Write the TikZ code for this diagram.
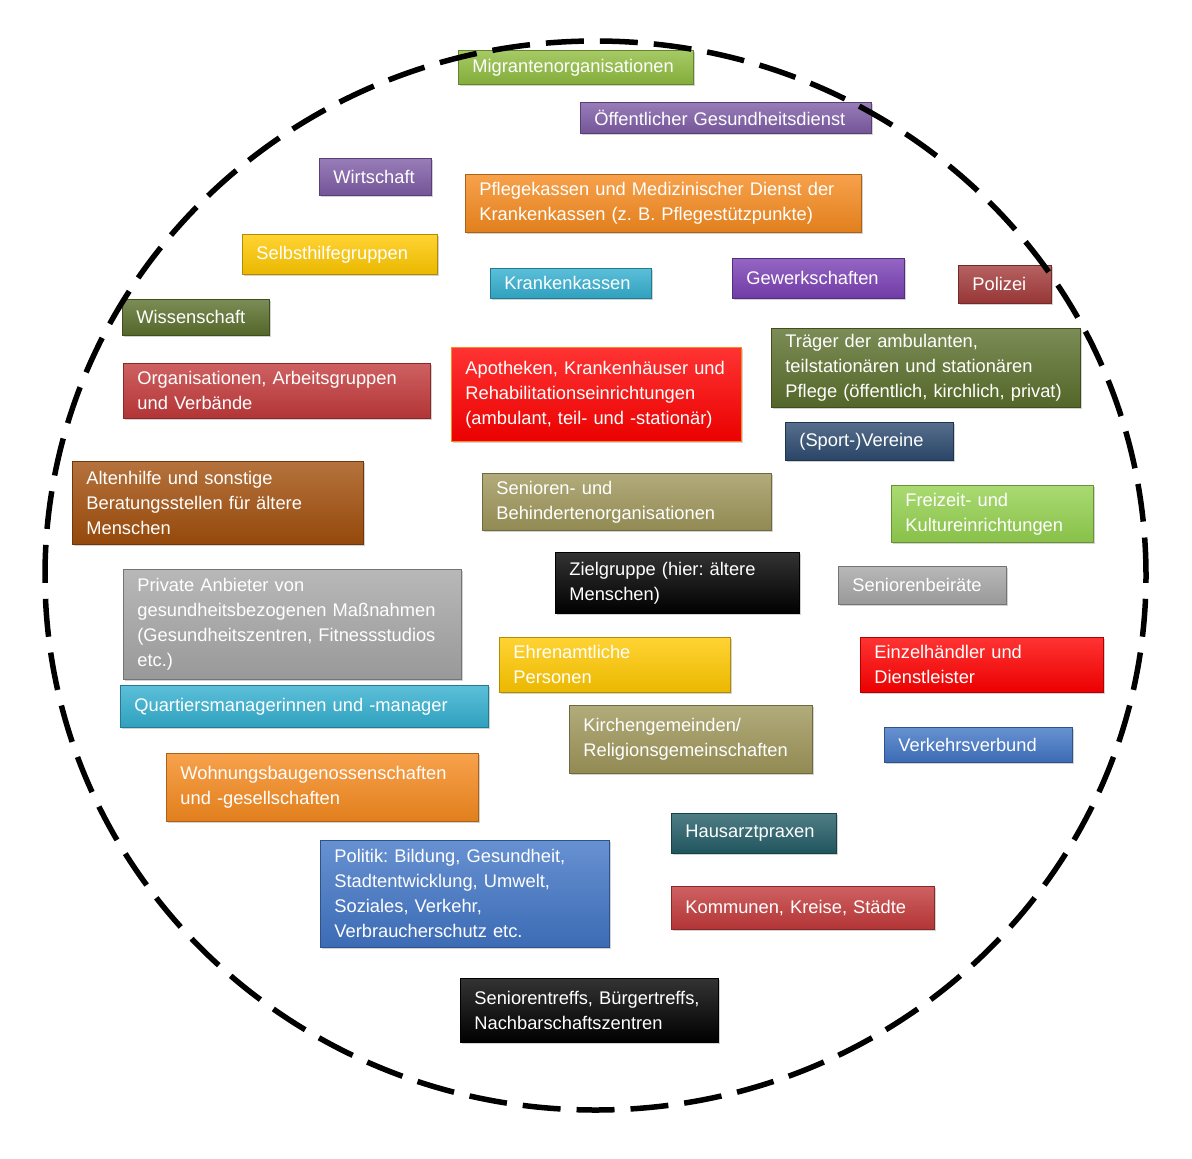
\documentclass[tikz,border=0pt]{standalone}
\usepackage{fontspec}
\setmainfont{Liberation Sans}
\usetikzlibrary{shadows}
\frenchspacing

\definecolor{limegreen}{HTML}{8FBC3F}
\definecolor{lila}{HTML}{7E5CA6}
\definecolor{violett}{HTML}{7A40B5}
\definecolor{orangeb}{HTML}{F58A1F}
\definecolor{gelb}{HTML}{FFC800}
\definecolor{cyanb}{HTML}{33AFCF}
\definecolor{rostrot}{HTML}{A33A3A}
\definecolor{oliv}{HTML}{5B6F2C}
\definecolor{ziegel}{HTML}{C2393A}
\definecolor{knallrot}{HTML}{FF0000}
\definecolor{marine}{HTML}{2C4A6F}
\definecolor{braun}{HTML}{A24F0C}
\definecolor{khaki}{HTML}{9E965A}
\definecolor{hellgruen}{HTML}{94D14F}
\definecolor{grau}{HTML}{A6A6A6}
\definecolor{blau}{HTML}{4175C5}
\definecolor{petrol}{HTML}{235C66}
\definecolor{schwarz}{HTML}{000000}

\begin{document}
\begin{tikzpicture}[x=1pt, y=-1pt, font=\fontsize{18.3}{25}\selectfont,
  box/.style={anchor=north west, draw=#1!70!black, line width=0.8pt, top color=#1!80!white, bottom color=#1!92!black,
    text=white, align=left, inner xsep=14pt, inner ysep=0pt,
    drop shadow={shadow xshift=2pt, shadow yshift=-2pt, fill=black!35}}]
\useasboundingbox (0,0) rectangle (1192,1159);
% Akteure
\node[box=limegreen, text width=207pt, minimum height=34pt] (mig) at (458,50) {Migrantenorganisationen};
\node[box=lila, text width=263pt, minimum height=31pt] (oegd) at (580,102) {Öffentlicher Gesundheitsdienst};
\node[box=lila, text width=84pt, minimum height=37pt] (wirt) at (319,158) {Wirtschaft};
\node[box=orangeb, text width=368pt, minimum height=58pt] (pflk) at (465,174) {Pflegekassen und Medizinischer Dienst der\\ Krankenkassen (z. B. Pflegestützpunkte)};
\node[box=gelb, text width=167pt, minimum height=40pt] (shg) at (242,234) {Selbsthilfegruppen};
\node[box=cyanb, text width=133pt, minimum height=30pt] (krk) at (490,268) {Krankenkassen};
\node[box=violett, text width=144pt, minimum height=40pt] (gew) at (732,258) {Gewerkschaften};
\node[box=rostrot, text width=65pt, minimum height=38pt] (pol) at (958,265) {Polizei};
\node[box=oliv, text width=119pt, minimum height=36pt] (wiss) at (122,299) {Wissenschaft};
\node[box=ziegel, text width=279pt, minimum height=55pt] (org) at (123,363) {Organisationen, Arbeitsgruppen\\ und Verbände};
\node[box=knallrot, draw=orangeb, text width=262pt, minimum height=94pt] (apo) at (451,347) {Apotheken, Krankenhäuser und\\ Rehabilitationseinrichtungen\\ (ambulant, teil- und -stationär)};
\node[box=oliv, text width=281pt, minimum height=79pt] (traeger) at (771,328) {Träger der ambulanten,\\ teilstationären und stationären\\ Pflege (öffentlich, kirchlich, privat)};
\node[box=marine, text width=140pt, minimum height=38pt] (sport) at (785,422) {(Sport-)Vereine};
\node[box=braun, text width=263pt, minimum height=83pt] (alten) at (72,461) {Altenhilfe und sonstige\\ Beratungsstellen für ältere\\ Menschen};
\node[box=khaki, text width=261pt, minimum height=57pt] (senbeh) at (482,473) {Senioren- und\\ Behindertenorganisationen};
\node[box=hellgruen, text width=174pt, minimum height=57pt] (freizeit) at (891,485) {Freizeit- und\\ Kultureinrichtungen};
\node[box=schwarz, text width=216pt, minimum height=61pt] (ziel) at (555,552) {Zielgruppe (hier: ältere\\ Menschen)};
\node[box=grau, text width=140pt, minimum height=38pt] (beirat) at (838,566) {Seniorenbeiräte};
\node[box=grau, text width=310pt, minimum height=110pt] (privat) at (123,569) {Private Anbieter von\\ gesundheitsbezogenen Maßnahmen\\ (Gesundheitszentren, Fitnessstudios\\ etc.)};
\node[box=gelb, text width=203pt, minimum height=55pt] (ehren) at (499,637) {Ehrenamtliche\\ Personen};
\node[box=knallrot, text width=215pt, minimum height=55pt] (einzel) at (860,637) {Einzelhändler und\\ Dienstleister};
\node[box=cyanb, text width=340pt, minimum height=42pt] (quartier) at (120,685) {Quartiersmanagerinnen und -manager};
\node[box=khaki, text width=215pt, minimum height=68pt] (kirche) at (569,705) {Kirchengemeinden/\\ Religionsgemeinschaften};
\node[box=blau, text width=160pt, minimum height=35pt] (vvb) at (884,727) {Verkehrsverbund};
\node[box=orangeb, text width=284pt, minimum height=68pt] (wohnen) at (166,753) {Wohnungsbaugenossenschaften\\ und -gesellschaften};
\node[box=petrol, text width=137pt, minimum height=40pt] (arzt) at (671,813) {Hausarztpraxen};
\node[box=blau, text width=261pt, minimum height=107pt] (politik) at (320,840) {Politik: Bildung, Gesundheit,\\ Stadtentwicklung, Umwelt,\\ Soziales, Verkehr,\\ Verbraucherschutz etc.};
\node[box=ziegel, text width=235pt, minimum height=43pt] (kommunen) at (671,886) {Kommunen, Kreise, Städte};
\node[box=schwarz, text width=230pt, minimum height=64pt] (treffs) at (460,978) {Seniorentreffs, Bürgertreffs,\\ Nachbarschaftszentren};
% Netzwerkgrenze
\draw[line width=5.5pt, dash pattern=on 38pt off 16pt] (595.5,575.5) ellipse [x radius=550.5pt, y radius=534.5pt];
\end{tikzpicture}
\end{document}
